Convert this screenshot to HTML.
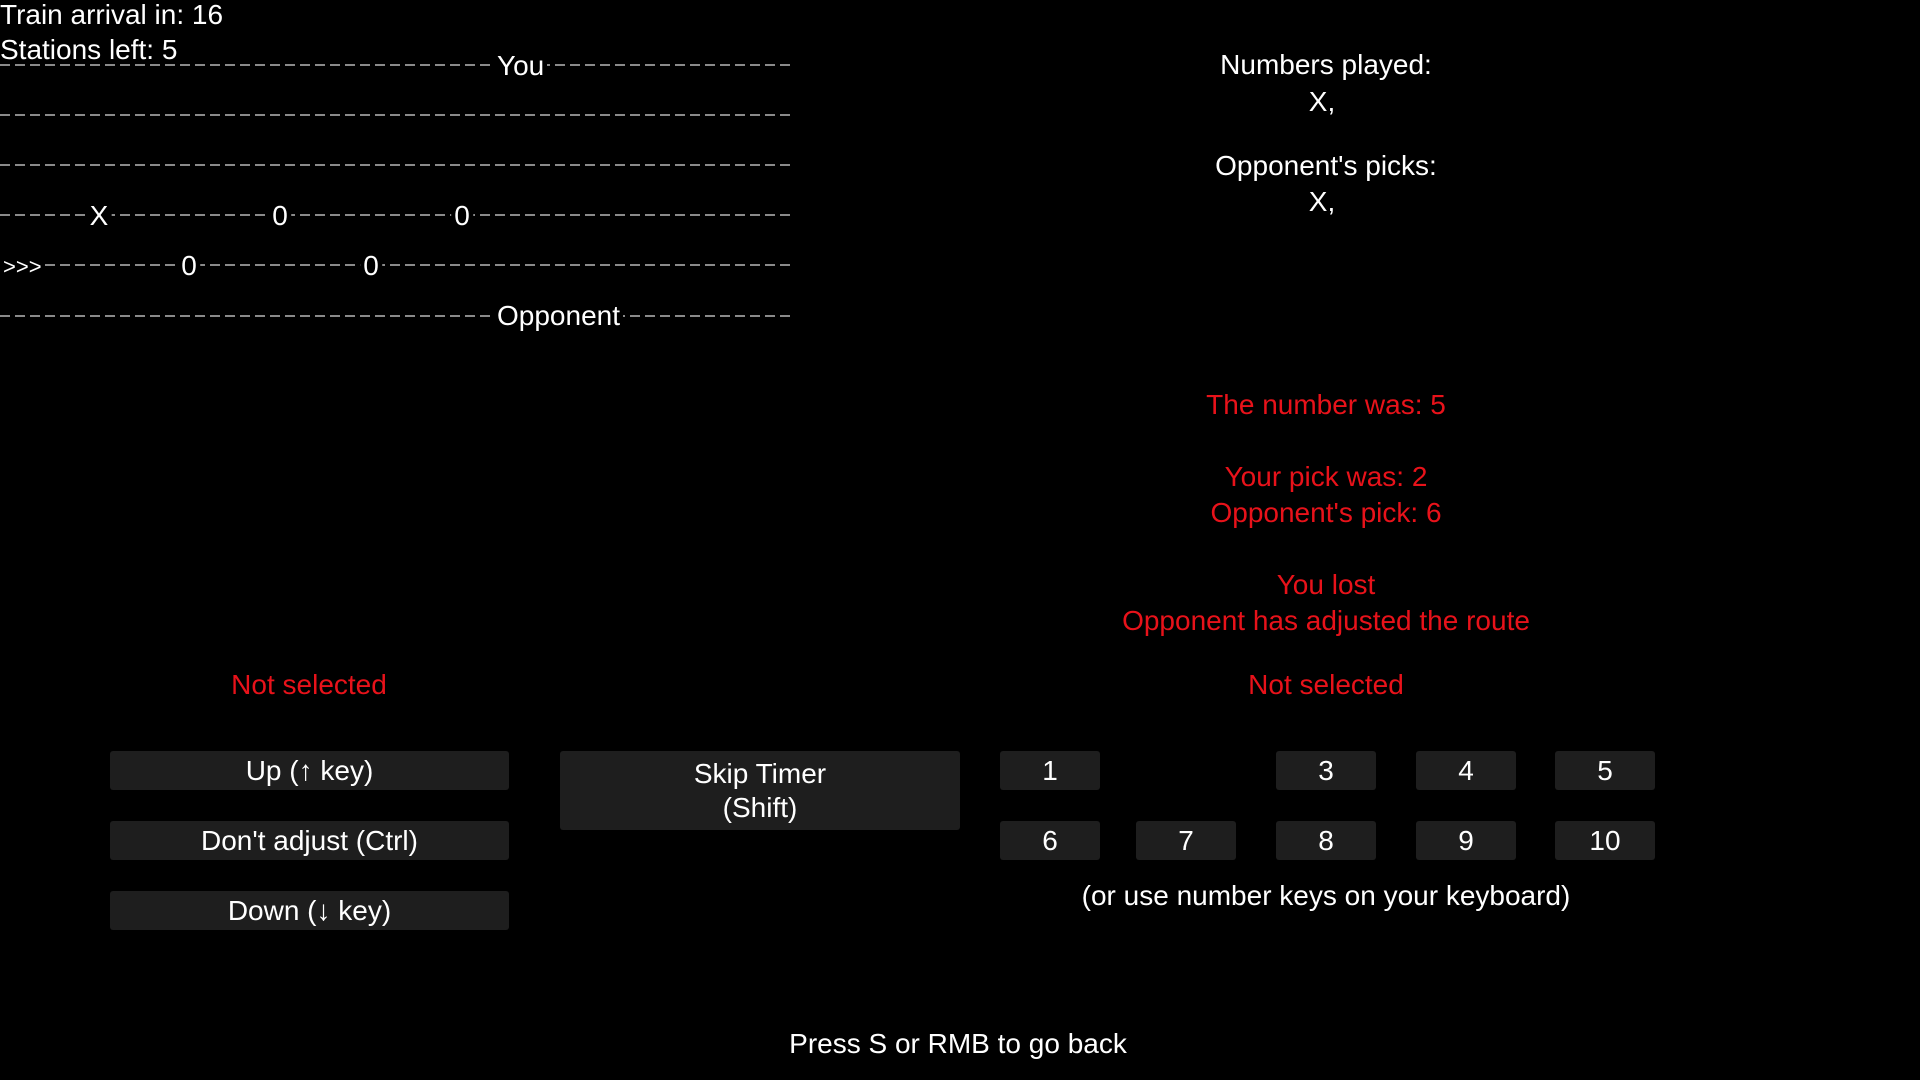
<!DOCTYPE html>
<html><head><meta charset="utf-8"><style>
body{margin:0;width:1920px;height:1080px;background:#000;overflow:hidden;position:relative;font-family:"Liberation Sans",sans-serif;color:#fff;font-size:28px}
.t{position:absolute;white-space:nowrap;line-height:32px;transform:translateY(-50%)}
.c{transform:translate(-50%,-50%)}
.r{color:#e8121a}
.line{position:absolute;left:0;width:793px;height:2px;background:repeating-linear-gradient(90deg,#8a8a8a 0 10px,transparent 10px 15px)}
.b{position:absolute;background:#1e1e1e;border-radius:3px;display:flex;align-items:center;justify-content:center;text-align:center;line-height:34px;font-size:28px}
.lbl{background:#000;padding:0 3px}
</style></head><body>
<div class="t" style="left:0;top:15px">Train arrival in: 16</div>
<div class="t" style="left:0;top:50px">Stations left: 5</div>

<div class="line" style="top:64px"></div>
<div class="line" style="top:114px"></div>
<div class="line" style="top:164px"></div>
<div class="line" style="top:214px"></div>
<div class="line" style="top:264px"></div>
<div class="line" style="top:315px"></div>

<div class="t lbl" style="left:494px;top:66px">You</div>
<div class="t lbl" style="left:494px;top:316px">Opponent</div>
<div class="t lbl c" style="left:99px;top:216px">X</div>
<div class="t lbl c" style="left:280px;top:216px">0</div>
<div class="t lbl c" style="left:462px;top:216px">0</div>
<div class="t lbl" style="left:0;top:267px;font-size:22px">&gt;&gt;&gt;</div>
<div class="t lbl c" style="left:189px;top:266px">0</div>
<div class="t lbl c" style="left:371px;top:266px">0</div>

<div class="t c" style="left:1326px;top:65px">Numbers played:</div>
<div class="t c" style="left:1322px;top:102px">X,</div>
<div class="t c" style="left:1326px;top:166px">Opponent's picks:</div>
<div class="t c" style="left:1322px;top:202px">X,</div>

<div class="t c r" style="left:1326px;top:405px">The number was: 5</div>
<div class="t c r" style="left:1326px;top:477px">Your pick was: 2</div>
<div class="t c r" style="left:1326px;top:513px">Opponent's pick: 6</div>
<div class="t c r" style="left:1326px;top:585px">You lost</div>
<div class="t c r" style="left:1326px;top:621px">Opponent has adjusted the route</div>
<div class="t c r" style="left:309px;top:685px">Not selected</div>
<div class="t c r" style="left:1326px;top:685px">Not selected</div>

<div class="b" style="left:110px;top:751px;width:399px;height:39px">Up (↑ key)</div>
<div class="b" style="left:110px;top:821px;width:399px;height:39px">Don't adjust (Ctrl)</div>
<div class="b" style="left:110px;top:891px;width:399px;height:39px">Down (↓ key)</div>
<div class="b" style="left:560px;top:751px;width:400px;height:79px">Skip Timer<br>(Shift)</div>

<div class="b" style="left:1000px;top:751px;width:100px;height:39px">1</div>
<div class="b" style="left:1276px;top:751px;width:100px;height:39px">3</div>
<div class="b" style="left:1416px;top:751px;width:100px;height:39px">4</div>
<div class="b" style="left:1555px;top:751px;width:100px;height:39px">5</div>
<div class="b" style="left:1000px;top:821px;width:100px;height:39px">6</div>
<div class="b" style="left:1136px;top:821px;width:100px;height:39px">7</div>
<div class="b" style="left:1276px;top:821px;width:100px;height:39px">8</div>
<div class="b" style="left:1416px;top:821px;width:100px;height:39px">9</div>
<div class="b" style="left:1555px;top:821px;width:100px;height:39px">10</div>

<div class="t c" style="left:1326px;top:896px">(or use number keys on your keyboard)</div>
<div class="t c" style="left:958px;top:1044px">Press S or RMB to go back</div>
</body></html>
